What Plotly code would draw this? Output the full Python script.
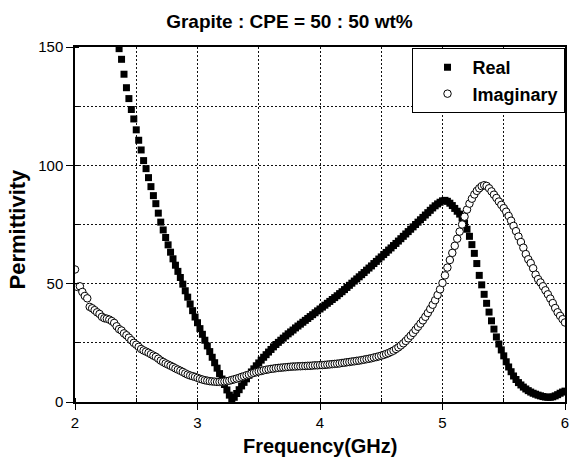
import numpy as np
import plotly.graph_objects as go

# Frequency sweep: 2-6 GHz, 201 points (0.02 GHz step)
freq_start, freq_stop, n_points = 2.0, 6.0, 201
freq = np.round(np.linspace(freq_start, freq_stop, n_points), 3)

# Real part of permittivity (None = off scale above 150)
real = [
    None, None, None, None, None, None, None, None, None, None,          # 2.00
    None, None, None, None, None, None, None, None, 149.3, 144.8,        # 2.20
    138.5, 132.8, 128.2, 123.6, 119.6, 115.0, 110.6, 106.5, 102.0, 98.6,  # 2.40
    94.8, 91.0, 87.2, 83.8, 79.8, 76.0, 72.7, 69.5, 66.4, 63.3,          # 2.60
    60.5, 57.8, 55.2, 52.6, 49.8, 47.0, 44.3, 41.4, 38.6, 35.9,          # 2.80
    33.5, 31.0, 28.6, 26.1, 23.7, 21.3, 18.9, 16.6, 14.3, 12.0,          # 3.00
    9.7, 7.4, 5.1, 2.9, 0.8, 2.0, 3.6, 5.2, 6.8, 8.3,                    # 3.20
    9.8, 11.3, 12.7, 14.0, 15.3, 16.5, 17.7, 18.9, 20.0, 21.1,           # 3.40
    22.2, 23.3, 24.3, 25.2, 26.1, 27.0, 27.9, 28.8, 29.6, 30.4,          # 3.60
    31.3, 32.1, 32.9, 33.7, 34.5, 35.3, 36.1, 36.9, 37.7, 38.5,          # 3.80
    39.3, 40.1, 40.9, 41.7, 42.5, 43.3, 44.1, 44.9, 45.8, 46.6,          # 4.00
    47.5, 48.4, 49.3, 50.2, 51.1, 52.0, 52.9, 53.8, 54.7, 55.7,          # 4.20
    56.6, 57.5, 58.5, 59.4, 60.4, 61.3, 62.3, 63.2, 64.2, 65.1,          # 4.40
    66.1, 67.0, 68.0, 69.0, 70.0, 71.0, 72.0, 73.0, 74.0, 75.0,          # 4.60
    76.0, 77.0, 78.0, 79.0, 80.0, 81.0, 82.0, 82.9, 83.7, 84.4,          # 4.80
    85.0, 85.2, 84.8, 84.0, 83.0, 81.8, 80.6, 79.4, 77.8, 75.5,          # 5.00
    73.0, 70.0, 66.5, 62.8, 58.5, 53.5, 49.5, 45.5, 41.7, 38.0,          # 5.20
    34.3, 30.8, 27.5, 24.5, 22.0, 19.5, 17.0, 14.8, 12.8, 11.0,          # 5.40
    9.5, 8.2, 7.2, 6.3, 5.5, 4.8, 4.2, 3.7, 3.3, 2.9,                    # 5.60
    2.6, 2.3, 2.1, 2.0, 2.0, 2.2, 2.6, 3.1, 3.7, 4.2,                    # 5.80
    4.6,                                                                 # 6.00
]

# Imaginary part of permittivity
imaginary = [
    56.0, 48.6, 48.9, 46.5, 44.8, 43.8, 40.2, 39.6, 38.8, 37.9,          # 2.00
    37.2, 36.0, 35.4, 35.2, 34.8, 34.2, 33.4, 32.0, 30.8, 30.2,          # 2.20
    29.0, 28.2, 27.2, 26.1, 25.0, 24.2, 23.3, 22.4, 21.8, 21.3,          # 2.40
    20.8, 20.2, 19.6, 19.1, 18.3, 17.5, 16.9, 16.3, 15.8, 15.3,          # 2.60
    14.8, 14.2, 13.7, 13.2, 12.7, 12.1, 11.6, 11.2, 10.9, 10.6,          # 2.80
    10.2, 9.8, 9.5, 9.2, 9.0, 8.8, 8.7, 8.6, 8.5, 8.5,                   # 3.00
    8.6, 8.7, 8.8, 9.0, 9.3, 9.6, 9.9, 10.2, 10.6, 10.9,                 # 3.20
    11.3, 11.6, 12.0, 12.3, 12.6, 12.9, 13.1, 13.4, 13.6, 13.8,          # 3.40
    14.0, 14.1, 14.3, 14.4, 14.5, 14.6, 14.7, 14.8, 14.9, 15.0,          # 3.60
    15.0, 15.1, 15.1, 15.2, 15.2, 15.3, 15.3, 15.4, 15.5, 15.5,          # 3.80
    15.6, 15.6, 15.7, 15.8, 15.9, 16.0, 16.1, 16.2, 16.3, 16.5,          # 4.00
    16.6, 16.8, 16.9, 17.1, 17.2, 17.4, 17.5, 17.7, 17.9, 18.1,          # 4.20
    18.3, 18.5, 18.8, 19.0, 19.3, 19.6, 19.9, 20.3, 20.7, 21.2,          # 4.40
    21.7, 22.4, 23.1, 23.9, 24.8, 25.8, 26.9, 28.0, 29.2, 30.5,          # 4.60
    31.8, 33.1, 34.5, 36.0, 37.6, 39.3, 41.1, 43.0, 45.2, 47.6,          # 4.80
    50.3, 53.5, 56.8, 60.0, 63.0, 66.0, 69.0, 72.0, 75.0, 78.3,          # 5.00
    81.3, 83.8, 85.9, 87.7, 89.2, 90.3, 91.2, 91.6, 91.3, 90.3,          # 5.20
    89.0, 87.6, 86.2, 84.7, 83.3, 81.9, 80.4, 78.6, 76.6, 74.4,          # 5.40
    72.2, 69.9, 67.6, 65.2, 62.5, 60.3, 58.7, 56.5, 53.8, 51.9,          # 5.60
    50.5, 48.9, 47.2, 45.5, 43.7, 41.8, 39.7, 37.9, 36.4, 35.0,          # 5.80
    33.6,                                                                # 6.00
]

x_ticks = [2, 3, 4, 5, 6]
y_ticks = [0, 50, 100, 150]

FONT = "Arial, Liberation Sans, sans-serif"

fig = go.Figure()
fig.add_trace(go.Scatter(
    x=freq, y=real, mode="markers", name="Real",
    marker=dict(symbol="square", size=7, color="black", line=dict(width=0)),
))
fig.add_trace(go.Scatter(
    x=freq, y=imaginary, mode="markers", name="Imaginary",
    marker=dict(symbol="circle", size=7.5, color="white",
                line=dict(color="black", width=1)),
))

grid_style = dict(showgrid=True, gridcolor="#111", gridwidth=1, griddash="2px,2px")

fig.update_xaxes(
    range=[2, 6], tickvals=x_ticks, ticks="outside", ticklen=6, tickwidth=1.2,
    tickcolor="black", showline=True, linecolor="black", linewidth=1.5,
    mirror=True, zeroline=False,
    tickfont=dict(family=FONT, size=15, color="black"),
    minor=dict(dtick=0.5, ticks="inside", ticklen=4, tickcolor="black", **grid_style),
    **grid_style,
)
fig.update_yaxes(
    range=[0, 150], tickvals=y_ticks, ticks="outside", ticklen=7, tickwidth=1.2,
    tickcolor="black", showline=True, linecolor="black", linewidth=1.5,
    mirror=True, zeroline=False,
    tickfont=dict(family=FONT, size=15, color="black"),
    minor=dict(dtick=25, ticks="inside", ticklen=4, tickcolor="black", **grid_style),
    **grid_style,
)

fig.update_layout(
    width=572, height=464,
    margin=dict(l=75, r=3, t=47, b=62),
    paper_bgcolor="white", plot_bgcolor="white",
    font=dict(family=FONT, color="black"),
    title=dict(text="Grapite : CPE = 50 : 50 wt%", x=0.506, xref="container",
               xanchor="center", y=1 - 21 / 464, yref="container", yanchor="middle",
               font=dict(family=FONT, size=19, weight="bold", color="black")),
    legend=dict(x=0.999, xanchor="right", y=0.997, yanchor="top",
                bgcolor="white", bordercolor="black", borderwidth=1,
                font=dict(family=FONT, size=18, weight="bold", color="black"),
                itemwidth=40, tracegroupgap=0, indentation=10),
    showlegend=True,
    annotations=[
        dict(text="Frequency(GHz)", x=0.5, xref="paper", y=0, yref="paper",
             showarrow=False, font=dict(family=FONT, size=20, weight="bold")),
        dict(text="Permittivity", x=0, y=0.5, xref="paper", yref="paper",
             textangle=-90, showarrow=False,
             font=dict(family=FONT, size=22, weight="bold")),
    ],
)

# Axis-title annotations placed in pixel terms relative to the plot area
plot_left, plot_top, plot_w, plot_h = 75, 47, 494, 355
fig.layout.annotations[0].update(y=-(446 - (plot_top + plot_h)) / plot_h, yanchor="middle")
fig.layout.annotations[1].update(x=-(plot_left - 17) / plot_w, xanchor="center",
                                 y=1 - (229 - plot_top) / plot_h, yanchor="middle")

fig.write_html("out.html")
